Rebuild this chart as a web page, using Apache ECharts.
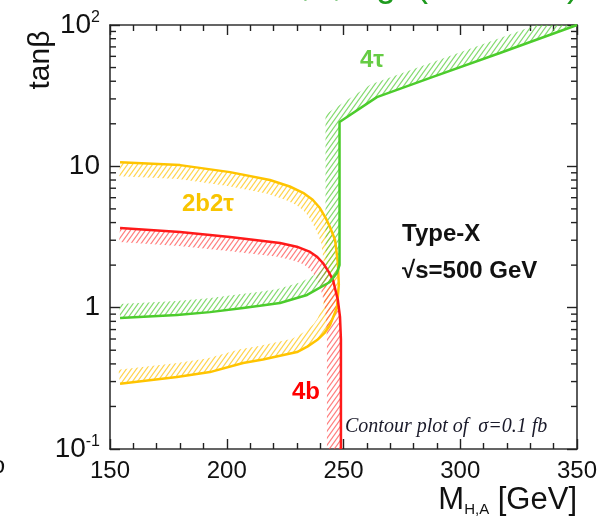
<!DOCTYPE html>
<html><head><meta charset="utf-8">
<script src="https://cdn.jsdelivr.net/npm/echarts@6/dist/echarts.min.js"></script>
<style>html,body{margin:0;padding:0;background:#fff;}#c{width:613px;height:521px;}</style>
</head><body><div id="c"></div>
<script>
// ---- data (M_HA [GeV], tanβ) ----
const xTickValues = [150, 200, 250, 300, 350];
const yTickValues = [0.1, 1, 10, 100];
const yTickLabels = ['{b|10}{s|-1}', '{b|1}', '{b|10}', '{b|10}{s|2}'];
const green4tau = [[154.3,0.845],[178.7,0.887],[192.8,0.93],[207,0.995],[214.2,1.03],[222.8,1.08],[234.4,1.23],[244.2,1.52],[247.2,1.76],[248.3,2.0],[248.3,20.6],[264.3,30.9],[288.3,42.9],[317,63.4],[350,100]];
const yellow2b2tau = [[154.3,10.7],[180,10.2],[201.4,9.1],[218.5,8.0],[227,7.2],[232.7,6.5],[236.8,5.8],[239.9,5.07],[242.4,4.3],[244.2,3.72],[246.4,3.01],[247.6,2.07],[248,1.45],[247.2,1.0],[244.2,0.75],[241.8,0.66],[238.7,0.59],[234.5,0.53],[230.1,0.485],[215.5,0.43],[207,0.406],[192.8,0.35],[178.7,0.323],[154.3,0.29]];
const red4b = [[154.3,3.66],[180,3.43],[201.4,3.16],[222.8,2.87],[230,2.7],[235.7,2.48],[238.8,2.28],[241.2,2.07],[243.6,1.8],[245.5,1.57],[247.6,1.13],[248.5,0.86],[248.9,0.6],[248.9,0.1]];
const minorMultipliers = [2,3,4,5,6,7,8,9];
const decades = [0.1, 1, 10];

const FONT = "'Liberation Sans', Arial, Helvetica, sans-serif";

function makeHatch(color) {
  const w = 5, h = 7;
  const c = document.createElement('canvas');
  c.width = w; c.height = h;
  const ctx = c.getContext('2d');
  ctx.strokeStyle = color; ctx.lineWidth = 1.2;
  for (const sh of [-w, 0, w]) {
    ctx.beginPath();
    ctx.moveTo(-w + sh, 2 * h);
    ctx.lineTo(2 * w + sh, -h);
    ctx.stroke();
  }
  return c;
}

function bandPolygon(pts, w, side) {
  const n = pts.length, segN = [];
  for (let i = 0; i < n - 1; i++) {
    const dx = pts[i+1][0] - pts[i][0], dy = pts[i+1][1] - pts[i][1];
    const L = Math.hypot(dx, dy) || 1;
    segN.push([side * dy / L, -side * dx / L]);
  }
  const off = [];
  for (let i = 0; i < n; i++) {
    let nn;
    if (i === 0) nn = segN[0];
    else if (i === n - 1) nn = segN[n - 2];
    else {
      const a = segN[i-1], b = segN[i];
      const s = [a[0] + b[0], a[1] + b[1]];
      const L = Math.hypot(s[0], s[1]);
      if (L < 1e-6) nn = a;
      else {
        const m = [s[0] / L, s[1] / L];
        const d = m[0] * a[0] + m[1] * a[1];
        const k = Math.min(1 / Math.max(d, 0.3), 3);
        nn = [m[0] * k, m[1] * k];
      }
    }
    off.push([pts[i][0] + nn[0] * w, pts[i][1] + nn[1] * w]);
  }
  return pts.concat(off.reverse());
}

function hatchSeries(curve, color, side) {
  const pat = makeHatch(color);
  return {
    type: 'custom',
    data: curve,
    z: 2,
    silent: true,
    renderItem: function (params, api) {
      if (params.dataIndex !== 0) return null;
      const pts = curve.map(p => api.coord(p));
      const cs = params.coordSys;
      return {
        type: 'group',
        clipPath: { type: 'rect', shape: { x: cs.x, y: cs.y, width: cs.width, height: cs.height } },
        children: [{
          type: 'polygon',
          shape: { points: bandPolygon(pts, 14, side) },
          style: { fill: { image: pat, repeat: 'repeat' }, stroke: null }
        }]
      };
    }
  };
}

function lineSeries(curve, color) {
  return {
    type: 'line', data: curve, showSymbol: false, z: 5, silent: true,
    lineStyle: { color: color, width: 2.5 }, clip: true
  };
}

const minorTickSeries = {
  type: 'custom', data: [[150, 1]], z: 10, silent: true,
  renderItem: function (params, api) {
    const children = [];
    decades.forEach(d => minorMultipliers.forEach(m => {
      const v = d * m;
      const l = api.coord([150, v]), r = api.coord([350, v]);
      children.push({ type: 'line', shape: { x1: l[0], y1: l[1], x2: l[0] + 6, y2: l[1] }, style: { stroke: '#222', lineWidth: 1.4 } });
      children.push({ type: 'line', shape: { x1: r[0], y1: r[1], x2: r[0] - 6, y2: r[1] }, style: { stroke: '#222', lineWidth: 1.4 } });
    }));
    return { type: 'group', children: children };
  }
};

const axisLine = { show: true, lineStyle: { color: '#333', width: 1.6 } };
const xBase = {
  type: 'value', min: 150, max: 350, interval: 50,
  axisLine: axisLine, splitLine: { show: false },
  axisTick: { show: true, inside: true, length: 10, lineStyle: { color: '#222', width: 1.4 } },
  minorTick: { show: true, splitNumber: 5, length: 6, lineStyle: { color: '#222', width: 1.4 } }
};
const yBase = {
  type: 'log', logBase: 10, min: 0.1, max: 100,
  axisLine: axisLine, splitLine: { show: false },
  axisTick: { show: true, inside: true, length: 10, lineStyle: { color: '#222', width: 1.4 } }
};

const chart = echarts.init(document.getElementById('c'));
chart.setOption({
  animation: false,
  backgroundColor: '#fff',
  grid: { left: 110, top: 25, right: 36, bottom: 72 },
  xAxis: [
    Object.assign({}, xBase, { position: 'bottom',
      axisLabel: { show: true, margin: 10, color: '#111', fontSize: 24, fontFamily: FONT,
        formatter: v => xTickValues.indexOf(v) >= 0 ? String(v) : '' } }),
    Object.assign({}, xBase, { position: 'top', axisLabel: { show: false } })
  ],
  yAxis: [
    Object.assign({}, yBase, { position: 'left',
      axisLabel: { show: true, margin: 10, color: '#111', fontFamily: FONT,
        formatter: v => { const i = yTickValues.findIndex(t => Math.abs(Math.log10(t) - Math.log10(v)) < 1e-6); return i >= 0 ? yTickLabels[i] : ''; },
        rich: {
          b: { fontSize: 28, fontFamily: FONT, color: '#111', lineHeight: 30, verticalAlign: 'middle' },
          s: { fontSize: 16, fontFamily: FONT, color: '#111', lineHeight: 16, verticalAlign: 'top' }
        } } }),
    Object.assign({}, yBase, { position: 'right', axisLabel: { show: false } })
  ],
  series: [
    hatchSeries(yellow2b2tau, 'rgba(255,200,30,0.8)', -1),
    hatchSeries(red4b, 'rgba(255,70,70,0.7)', -1),
    hatchSeries(green4tau, 'rgba(90,205,60,0.75)', 1),
    lineSeries(yellow2b2tau, '#ffc400'),
    lineSeries(red4b, '#ff1a1a'),
    lineSeries(green4tau, '#4ccc2c'),
    minorTickSeries
  ],
  graphic: [
    { type: 'text', x: 41, y: 60, rotation: Math.PI / 2,
      style: { text: 'tanβ', font: '30px ' + FONT, fill: '#111', textAlign: 'center', textVerticalAlign: 'middle' } },
    { type: 'text', x: 577, y: 500,
      style: { text: '{m|M}{s|H,A}{m| [GeV]}', textAlign: 'right', textVerticalAlign: 'middle',
        rich: { m: { fontSize: 31, fontFamily: FONT, fill: '#111', lineHeight: 34 },
                s: { fontSize: 15, fontFamily: FONT, fill: '#111', lineHeight: 16, verticalAlign: 'bottom' } } } },
    { type: 'text', x: 360, y: 60, style: { text: '4τ', font: 'bold 24px ' + FONT, fill: '#66cc44', textVerticalAlign: 'middle' } },
    { type: 'text', x: 182, y: 204, style: { text: '2b2τ', font: 'bold 24px ' + FONT, fill: '#f8c400', textVerticalAlign: 'middle' } },
    { type: 'text', x: 292, y: 392, style: { text: '4b', font: 'bold 24px ' + FONT, fill: '#ff0000', textVerticalAlign: 'middle' } },
    { type: 'text', x: 402, y: 234, style: { text: 'Type-X', font: 'bold 24px ' + FONT, fill: '#111', textVerticalAlign: 'middle' } },
    { type: 'text', x: 402, y: 271, style: { text: '√s=500 GeV', font: 'bold 24px ' + FONT, fill: '#111', textVerticalAlign: 'middle' } },
    { type: 'text', x: 345, y: 427, style: { text: 'Contour plot of  σ=0.1 fb', font: 'italic 20px "Liberation Serif", "Times New Roman", serif', fill: '#1a1a2a', textVerticalAlign: 'middle' } },
    { type: 'text', x: 301, y: -14, style: { text: ',', font: '36px ' + FONT, fill: '#1e9a1e', textVerticalAlign: 'middle' } },
    { type: 'text', x: 332, y: -14, style: { text: ',', font: '36px ' + FONT, fill: '#1e9a1e', textVerticalAlign: 'middle' } },
    { type: 'text', x: 376, y: -14, style: { text: 'g', font: '36px ' + FONT, fill: '#1e9a1e', textVerticalAlign: 'middle' } },
    { type: 'text', x: 416, y: -14, style: { text: '(', font: '36px ' + FONT, fill: '#1e9a1e', textVerticalAlign: 'middle' } },
    { type: 'text', x: 567, y: -14, style: { text: ')', font: '36px ' + FONT, fill: '#1e9a1e', textVerticalAlign: 'middle' } },
    { type: 'text', x: 5, y: 466, style: { text: 'o', font: '24px ' + FONT, fill: '#111', textAlign: 'right', textVerticalAlign: 'middle' } }
  ]
});
</script></body></html>
